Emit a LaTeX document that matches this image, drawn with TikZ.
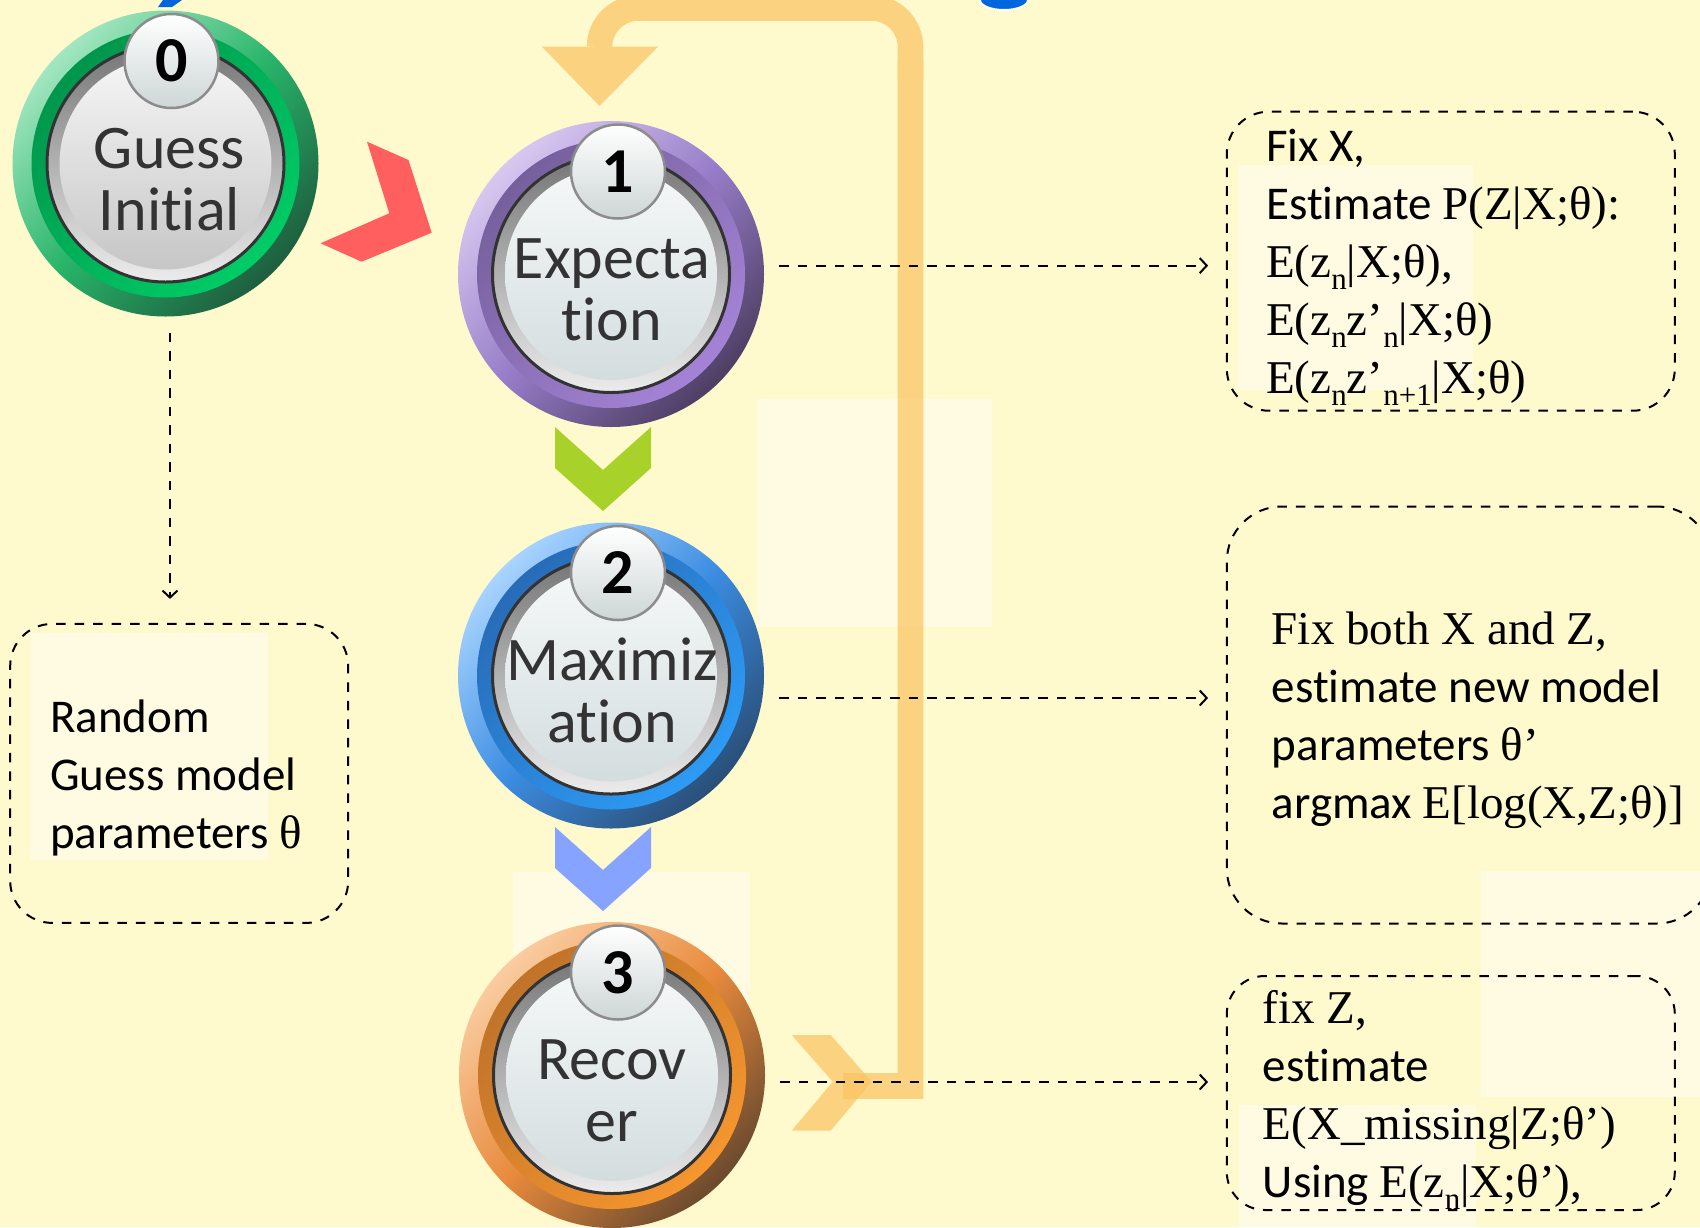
\documentclass[tikz,border=0pt]{standalone}
\usepackage{fontspec}
\setmainfont{Carlito}[Ligatures=NoCommon]
\newfontfamily\serifface{Liberation Serif}
\usetikzlibrary{arrows.meta}

\definecolor{cbg}{RGB}{255,249,206}
\definecolor{cpatch}{RGB}{255,251,226}
\definecolor{cloop}{RGB}{250,196,95}
\definecolor{cred}{RGB}{255,95,95}
\definecolor{clime}{RGB}{168,209,42}
\definecolor{cperi}{RGB}{133,163,255}
\definecolor{ctitle}{RGB}{0,102,221}
\definecolor{ctext}{RGB}{51,51,51}
\definecolor{cwellA}{RGB}{118,118,118}
\definecolor{cwellB}{RGB}{236,236,236}
\definecolor{cbadgeline}{RGB}{140,140,140}
\definecolor{cbadgeB}{RGB}{206,214,214}
\definecolor{cfaceA}{RGB}{246,246,246}
\definecolor{cfaceB}{RGB}{198,198,198}
\definecolor{cfaceC}{RGB}{245,248,248}
\definecolor{cfaceD}{RGB}{212,221,222}
\definecolor{cgreenA}{RGB}{163,230,192}
\definecolor{cgreenB}{RGB}{40,180,105}
\definecolor{cgreenC}{RGB}{30,94,62}
\definecolor{cgreenD}{RGB}{0,150,76}
\definecolor{cgreenE}{RGB}{0,204,102}
\definecolor{cpurpA}{RGB}{216,200,240}
\definecolor{cpurpB}{RGB}{150,124,200}
\definecolor{cpurpC}{RGB}{78,62,99}
\definecolor{cpurpD}{RGB}{118,96,156}
\definecolor{cpurpE}{RGB}{164,131,214}
\definecolor{cblueA}{RGB}{168,212,255}
\definecolor{cblueB}{RGB}{60,140,225}
\definecolor{cblueC}{RGB}{42,79,120}
\definecolor{cblueD}{RGB}{40,108,184}
\definecolor{cblueE}{RGB}{45,155,245}
\definecolor{corngA}{RGB}{250,204,160}
\definecolor{corngB}{RGB}{232,138,60}
\definecolor{corngC}{RGB}{107,74,46}
\definecolor{corngD}{RGB}{192,115,42}
\definecolor{corngE}{RGB}{245,150,46}

\newcommand{\lowsub}[1]{\raisebox{-12pt}{\fontsize{31}{31}\selectfont #1}}

\begin{document}
\begin{tikzpicture}[x=1pt,y=-1pt,
        ring/.style n args={3}{circle,inner sep=0pt,minimum size=306pt,
          top color=#1,bottom color=#3,middle color=#2,shading angle=45},
        band/.style 2 args={circle,inner sep=0pt,minimum size=268pt,
          top color=#1,bottom color=#2,shading angle=45},
        well/.style={circle,inner sep=0pt,minimum size=237pt,draw=ctext,
          line width=3pt,top color=cwellA,bottom color=cwellB},
        face/.style 2 args={circle,inner sep=0pt,minimum size=212pt,
          top color=#1,bottom color=#2},
        badge/.style={circle,inner sep=0pt,minimum size=94pt,draw=cbadgeline,
          line width=2.5pt,top color=white,bottom color=cbadgeB,
          font=\fontsize{64}{64}\selectfont\bfseries},
        disctext/.style={align=center,anchor=base,text=ctext,
          font=\fontsize{62}{62}\selectfont},
        note/.style={draw=black,line width=2pt,dash pattern=on 9.5pt off 9pt,
          inner sep=0pt},
        notetext/.style={align=left,anchor=base west,
          font=\fontsize{47}{58}\selectfont},
        dasharrow/.style={draw=black,line width=2pt,dash pattern=on 9.5pt off 9pt,
          -{Straight Barb[length=7pt,width=15pt,line width=2pt]},
          shorten <=15pt,shorten >=17.7pt},
        chev/.style={draw=none}]

      \useasboundingbox (0,0) rectangle (1700,1227);
      \clip (0,0) rectangle (1700,1227);
      \fill[cbg] (0,0) rectangle (1700,1227);

      % faint lighter patches of the slide
      \fill[cpatch] (30,633) rectangle (268,860);
      \fill[cpatch] (757,399) rectangle (992,627);
      \fill[cpatch] (513,872) rectangle (750,1007);
      \fill[cpatch] (1238,165) rectangle (1473,390);
      \fill[cpatch] (1481,871) rectangle (1700,1097);
      \fill[cpatch] (1239,1105) rectangle (1476,1227);

      % title remains at the top edge
      \fill[ctitle] (163,0) -- (182,0) -- (172,7) -- (158,7) -- cycle;
      \filldraw[ctitle,draw=white,line width=2pt]
        (980,0) arc[start angle=180,end angle=0,x radius=24,y radius=10];

      % loop back arrow
      \begin{scope}[transparency group,opacity=0.7]
        \draw[cloop,line width=25.6pt,rounded corners=39pt]
          (599.5,47) -- (599.5,8) -- (910.5,8) -- (910.5,80);
        \draw[cloop,line width=25.6pt]
          (910.5,60) -- (910.5,1086) -- (843,1086);
        \fill[cloop] (542,46.7) -- (658,46.7) -- (599.5,106) -- cycle;
      \end{scope}

      % chevrons
      \fill[cred] (367,141.7) -- (408.5,160) -- (431.7,232.7) -- (361.6,261.7)
        -- (320.5,243.3) -- (389.3,213.3) -- cycle;
      \fill[clime] (555,427) -- (603,470) -- (651,427) -- (651,468)
        -- (603,511) -- (555,468) -- cycle;
      \fill[cperi] (555,827) -- (603,870) -- (651,827) -- (651,868)
        -- (603,911) -- (555,868) -- cycle;
      \fill[cloop,opacity=0.7] (791.7,1035) -- (830.7,1035) -- (871.7,1081.7)
        -- (830.7,1130.7) -- (791.7,1130.7) -- (832.7,1081.7) -- cycle;

      % step 0
      \node[ring={cgreenA}{cgreenB}{cgreenC}] (guess) at (165.5,163.5) {};
      \node[band={cgreenD}{cgreenE}] (guess-band) at (guess) {};
      \node[well] (guess-well) at (guess) {};
      \node[face={cfaceA}{cfaceB}] (guess-face) at (guess) {};
      \node[badge] (guess-num) at ([shift={(6,-102.5)}]guess.center) {0};
      \node[disctext] (guess-txt) at ([shift={(4,66.5)}]guess.center) {Guess\\Initial};

      % step 1
      \node[ring={cpurpA}{cpurpB}{cpurpC}] (expect) at (611,274) {};
      \node[band={cpurpD}{cpurpE}] (expect-band) at (expect) {};
      \node[well] (expect-well) at (expect) {};
      \node[face={cfaceC}{cfaceD}] (expect-face) at (expect) {};
      \node[badge] (expect-num) at ([shift={(7,-102.5)}]expect.center) {1};
      \node[disctext] (expect-txt) at ([shift={(1,66.5)}]expect.center) {Expecta\\tion};

      % step 2
      \node[ring={cblueA}{cblueB}{cblueC}] (maxim) at (611,675.5) {};
      \node[band={cblueD}{cblueE}] (maxim-band) at (maxim) {};
      \node[well] (maxim-well) at (maxim) {};
      \node[face={cfaceC}{cfaceD}] (maxim-face) at (maxim) {};
      \node[badge] (maxim-num) at ([shift={(7,-102.5)}]maxim.center) {2};
      \node[disctext] (maxim-txt) at ([shift={(1,66.5)}]maxim.center) {Maximiz\\ation};

      % step 3
      \node[ring={corngA}{corngB}{corngC}] (recov) at (612,1075) {};
      \node[band={corngD}{corngE}] (recov-band) at (recov) {};
      \node[well] (recov-well) at (recov) {};
      \node[face={cfaceC}{cfaceD}] (recov-face) at (recov) {};
      \node[badge] (recov-num) at ([shift={(6,-102.5)}]recov.center) {3};
      \node[disctext] (recov-txt) at ([shift={(0,66.5)}]recov.center) {Recov\\er};

      % notes
      \node[note,rounded corners=42pt,minimum width=338pt,minimum height=299pt]
        (boxzero) at (179.2,773.4) {};
      \node[note,rounded corners=42pt,minimum width=448pt,minimum height=299pt]
        (boxone) at (1450.8,261.2) {};
      \node[note,rounded corners=55pt,minimum width=485pt,minimum height=417pt]
        (boxtwo) at (1469.3,715) {};
      \node[note,rounded corners=38pt,minimum width=448pt,minimum height=234pt]
        (boxthree) at (1450.8,1093) {};

      \node[notetext] (boxzero-txt) at (46.7,848.3)
        {Random\\Guess model\\parameters {\serifface θ}};
      \node[notetext] (boxone-txt) at (1262.7,393.5)
        {Fix X,\\Estimate {\serifface P(Z|X;θ):}\\
         {\serifface E(z\lowsub{n}|X;θ),}\\
         {\serifface E(z\lowsub{n}z’\lowsub{n}|X;θ)}\\
         {\serifface E(z\lowsub{n}z’\lowsub{n+1}|X;θ)}};
      \node[notetext] (boxtwo-txt) at (1268.3,818.5)
        {{\serifface Fix both X and Z,}\\estimate new model\\
         parameters {\serifface θ’}\\argmax {\serifface E[log(X,Z;θ)]}};
      \node[notetext] (boxthree-txt) at (1259.3,1197)
        {{\serifface fix Z,}\\estimate\\{\serifface E(X\_missing|Z;θ’)}\\
         Using {\serifface E(z\lowsub{n}|X;θ’),}};

      % dashed connectors
      \draw[dasharrow,shorten <=16pt,shorten >=24pt]
        ([xshift=4.5pt]guess.south) -- ([xshift=4.5pt]guess.south |- boxzero.north);
      \draw[dasharrow] ([yshift=8.4pt]expect.east) -- ([yshift=8.4pt]expect.east -| boxone.west);
      \draw[dasharrow] ([yshift=-22.5pt]maxim.east) -- ([yshift=-22.5pt]maxim.east -| boxtwo.west);
      \draw[dasharrow] ([yshift=-7pt]recov.east) -- ([yshift=-7pt]recov.east -| boxthree.west);
    \end{tikzpicture}
\end{document}
